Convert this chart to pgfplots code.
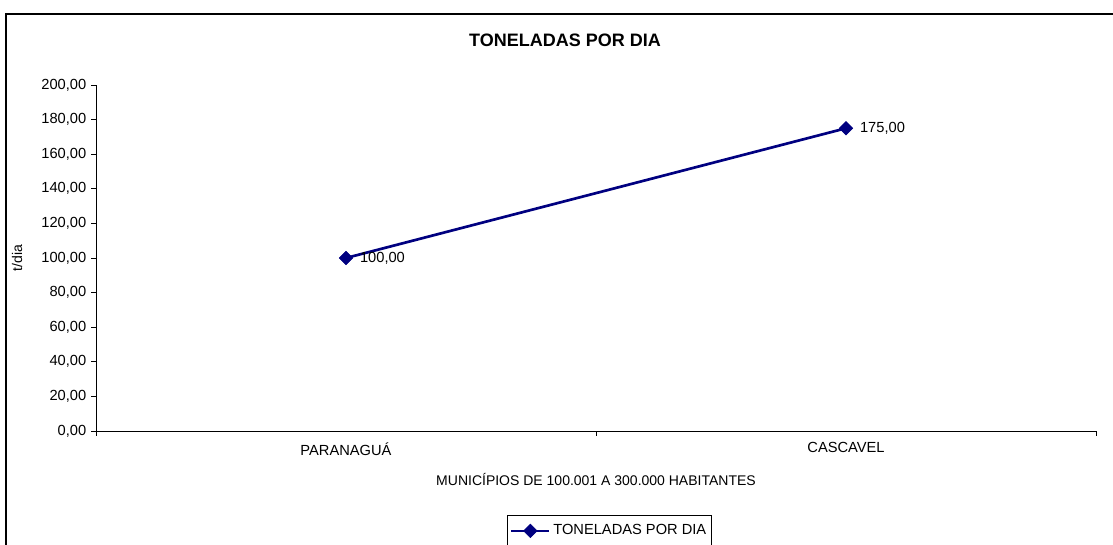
\documentclass[border=0pt]{standalone}
\usepackage{pgfplots}
\pgfplotsset{compat=1.18}
\usepackage{fontspec}
\setmainfont{Liberation Sans}
\definecolor{navy}{RGB}{0,0,128}
\begin{document}
\begin{tikzpicture}
\useasboundingbox (0,0) rectangle (834.75pt,408.75pt);
\begin{scope}
\clip (0,0) rectangle (834.75pt,408.75pt);
\draw[line width=1.3pt] (4.5pt,-10pt) -- (4.5pt,398.25pt) -- (900pt,398.25pt);
\end{scope}
\begin{axis}[
  at={(72pt,85.5pt)}, anchor=south west,
  scale only axis, width=750pt, height=259.5pt,
  xmin=0, xmax=2, ymin=0, ymax=200,
  axis lines=left, axis line style={-, line width=0.6pt},
  xtick={0,1,2}, xticklabels={},
  ytick={0,20,...,200},
  tick align=outside, major tick length=3.75pt,
  tick style={line width=0.6pt, black},
  extra x ticks={0.5,1.5},
  extra x tick labels={PARANAGUÁ,CASCAVEL},
  extra x tick style={major tick length=0pt, tick label style={yshift=-5pt}},
  /pgf/number format/assume math mode=true,
  yticklabel style={/pgf/number format/.cd, fixed, fixed zerofill, precision=2, use comma, 1000 sep={}},
  ticklabel style={font=\fontsize{11}{13}\selectfont},
  title={TONELADAS POR DIA},
  title style={at={(axis description cs:0.469,1.107)}, anchor=center, font=\fontsize{13.5}{16}\selectfont\bfseries},
  ylabel={t/dia},
  ylabel style={at={(axis description cs:-0.079,0.5)}, anchor=center, rotate=0, font=\fontsize{10.5}{12}\selectfont},
  xlabel={MUNICÍPIOS DE 100.001 A 300.000 HABITANTES},
  xlabel style={at={(axis description cs:0.5,-0.1416)}, anchor=center, font=\fontsize{10.5}{12}\selectfont},
  legend style={at={(axis description cs:0.5135,-0.2428)}, anchor=north, draw=black, line width=0.6pt, font=\fontsize{11}{13}\selectfont, inner xsep=2pt, inner ysep=5pt},
  legend image code/.code={\draw[mark repeat=2,mark phase=2] plot coordinates {(0cm,0cm) (0.5cm,0cm) (1cm,0cm)};},
  clip=false,
]
\addplot[color=navy, line width=2pt, mark=square*, mark size=3.6pt,
  mark options={rotate=45, line width=0.4pt, fill=navy},
  nodes near coords, point meta=y,
  nodes near coords style={anchor=west, xshift=7pt, yshift=0pt, black, font=\fontsize{11}{13}\selectfont,
    /pgf/number format/.cd, fixed, fixed zerofill, precision=2, use comma}]
  coordinates {(0.5,100) (1.5,175)};
\addlegendentry{TONELADAS POR DIA}
\end{axis}
\end{tikzpicture}
\end{document}
